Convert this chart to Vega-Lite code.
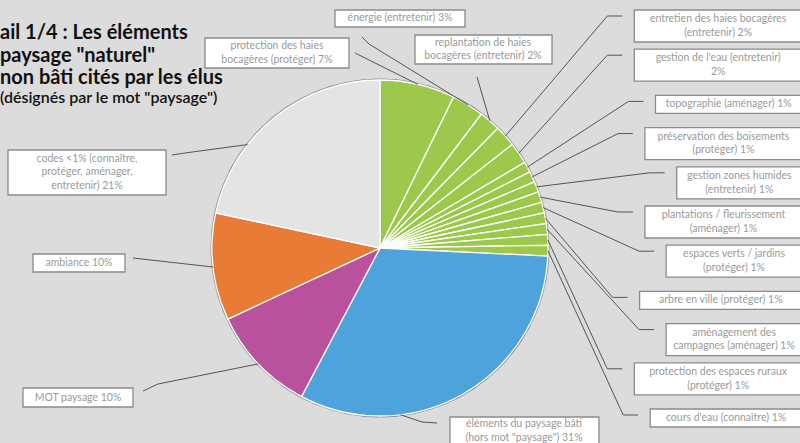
{
  "$schema": "https://vega.github.io/schema/vega-lite/v6.json",
  "width": 760,
  "height": 390,
  "autosize": {"type": "none"},
  "padding": {"left": 0, "top": 53, "right": 40, "bottom": 0},
  "background": "#dcdcdc",
  "config": {"view": {"stroke": null}, "font": "Lato"},
  "title": {
    "text": ["ail 1/4 : Les éléments", "paysage \"naturel\"", "non bâti cités par les élus"],
    "subtitle": "(désignés par le mot \"paysage\")",
    "anchor": "start",
    "frame": "group",
    "orient": "top",
    "offset": -97,
    "font": "Lato",
    "fontSize": 20,
    "fontWeight": "bold",
    "color": "#111111",
    "lineHeight": 22.5,
    "subtitleFont": "Lato",
    "subtitleFontSize": 16,
    "subtitleFontWeight": 600,
    "subtitleColor": "#111111",
    "subtitlePadding": 2
  },
  "data": {
    "values": [
      {"rank": 1, "label": ["protection des haies", "bocagères (protéger) 7%"], "pct": 7, "fam": "naturel"},
      {"rank": 2, "label": ["énergie (entretenir) 3%"], "pct": 3, "fam": "naturel"},
      {"rank": 3, "label": ["replantation de haies", "bocagères (entretenir) 2%"], "pct": 2, "fam": "naturel"},
      {"rank": 4, "label": ["entretien des haies bocagères", "(entretenir) 2%"], "pct": 2, "fam": "naturel"},
      {"rank": 5, "label": ["gestion de l'eau (entretenir)", "2%"], "pct": 2, "fam": "naturel"},
      {"rank": 6, "label": ["topographie (aménager) 1%"], "pct": 1, "fam": "naturel"},
      {"rank": 7, "label": ["préservation des boisements", "(protéger) 1%"], "pct": 1, "fam": "naturel"},
      {"rank": 8, "label": ["gestion zones humides", "(entretenir) 1%"], "pct": 1, "fam": "naturel"},
      {"rank": 9, "label": ["plantations / fleurissement", "(aménager) 1%"], "pct": 1, "fam": "naturel"},
      {"rank": 10, "label": ["espaces verts / jardins", "(protéger) 1%"], "pct": 1, "fam": "naturel"},
      {"rank": 11, "label": ["arbre en ville (protéger) 1%"], "pct": 1, "fam": "naturel"},
      {"rank": 12, "label": ["aménagement des", "campagnes (aménager) 1%"], "pct": 1, "fam": "naturel"},
      {"rank": 13, "label": ["protection des espaces ruraux", "(protéger) 1%"], "pct": 1, "fam": "naturel"},
      {"rank": 14, "label": ["cours d'eau (connaître) 1%"], "pct": 1, "fam": "naturel"},
      {"rank": 15, "label": ["éléments du paysage bâti", "(hors mot \"paysage\") 31%"], "pct": 31, "fam": "bâti"},
      {"rank": 16, "label": ["MOT paysage  10%"], "pct": 10, "fam": "mot"},
      {"rank": 17, "label": ["ambiance  10%"], "pct": 10, "fam": "ambiance"},
      {"rank": 18, "label": ["codes <1% (connaître,", "protéger, aménager,", "entretenir) 21%"], "pct": 21, "fam": "codes"}
    ]
  },
  "transform": [
    {"joinaggregate": [{"op": "sum", "field": "pct", "as": "total"}]},
    {"window": [{"op": "sum", "field": "pct", "as": "cum"}], "sort": [{"field": "rank"}], "frame": [null, 0]},
    {"calculate": "length(datum.label)", "as": "n"},
    {"calculate": "max(length(datum.label[0]), datum.n > 1 ? length(datum.label[1]) : 0, datum.n > 2 ? length(datum.label[2]) : 0)", "as": "len"},
    {"calculate": "5.3 * datum.len + 14", "as": "bw"},
    {"calculate": "4 + 14 * datum.n", "as": "bh"},
    {"calculate": "26 + (datum.rank - 4) * 39.2", "as": "ycp"},
    {"calculate": "datum.rank == 15 ? PI * 173 / 180 : datum.rank == 18 ? PI * 308 / 180 : 2 * PI * (datum.cum - datum.pct / 2) / datum.total", "as": "ang"},
    {"calculate": "datum.rank == 1 ? [205, 38, 349, 68, 277, 53, 355, 53, 355, 53] : datum.rank == 2 ? [335, 10, 465, 27, 400, 18.5, 362, 37, 369, 44] : datum.rank == 3 ? [415, 35, 552, 64, 483, 49.5, 477, 77, 477, 77] : datum.rank == 15 ? [450, 417, 599, 455, 524, 431, 437, 423, 422, 422] : datum.rank == 16 ? [23, 388, 133, 407, 78, 397.5, 143, 391, 158, 384] : datum.rank == 17 ? [33, 254, 125, 272, 79, 263, 133, 258, 133, 258] : datum.rank == 18 ? [8, 150, 166, 195, 87, 172.5, 172, 155, 185, 153] : [802 - datum.bw, datum.ycp - datum.bh / 2, 802, datum.ycp + datum.bh / 2, 802 - datum.bw / 2, datum.ycp, 790 - datum.bw, datum.ycp - datum.bh / 2 + 6, 775 - datum.bw, datum.ycp - datum.bh / 2 + 6]", "as": "lay"},
    {"calculate": "(datum.lay[0] - 380) / 168", "as": "bx1"},
    {"calculate": "(248 - datum.lay[1]) / 168", "as": "by1"},
    {"calculate": "(datum.lay[2] - 380) / 168", "as": "bx2"},
    {"calculate": "(248 - datum.lay[3]) / 168", "as": "by2"},
    {"calculate": "(datum.lay[4] - 380) / 168", "as": "tx"},
    {"calculate": "(248 - (datum.lay[5] - (datum.n - 1) * 13.5 / 2)) / 168", "as": "ty"},
    {"calculate": "(datum.lay[6] - 380) / 168", "as": "p0x"},
    {"calculate": "(248 - datum.lay[7]) / 168", "as": "p0y"},
    {"calculate": "(datum.lay[8] - 380) / 168", "as": "p1x"},
    {"calculate": "(248 - datum.lay[9]) / 168", "as": "p1y"},
    {"calculate": "sin(datum.ang)", "as": "ex"},
    {"calculate": "cos(datum.ang)", "as": "ey"}
  ],
  "layer": [
    {
      "transform": [{"aggregate": [{"op": "sum", "field": "pct", "as": "s"}]}],
      "mark": {"type": "arc", "outerRadius": 169.5, "fill": "#8e8e8e"},
      "encoding": {"theta": {"field": "s", "type": "quantitative"}}
    },
    {
      "mark": {"type": "arc", "outerRadius": 168, "stroke": "#ffffff", "strokeWidth": 1.3},
      "encoding": {
        "theta": {"field": "pct", "type": "quantitative", "stack": true},
        "order": {"field": "rank", "type": "quantitative"},
        "color": {
          "field": "fam",
          "type": "nominal",
          "scale": {"domain": ["naturel", "bâti", "mot", "ambiance", "codes"], "range": ["#9cc84b", "#4fa3dc", "#b9519f", "#e87c37", "#e4e4e4"]},
          "legend": null
        }
      }
    },
    {
      "mark": {"type": "rule", "stroke": "#555555", "strokeWidth": 1},
      "encoding": {
        "x": {"field": "p0x", "type": "quantitative", "scale": {"domain": [-2.2619, 2.2619], "nice": false, "zero": false}, "axis": null},
        "y": {"field": "p0y", "type": "quantitative", "scale": {"domain": [-1.1607, 1.1607], "nice": false, "zero": false}, "axis": null},
        "x2": {"field": "p1x"},
        "y2": {"field": "p1y"}
      }
    },
    {
      "mark": {"type": "rule", "stroke": "#555555", "strokeWidth": 1},
      "encoding": {
        "x": {"field": "p1x", "type": "quantitative", "scale": {"domain": [-2.2619, 2.2619], "nice": false, "zero": false}, "axis": null},
        "y": {"field": "p1y", "type": "quantitative", "scale": {"domain": [-1.1607, 1.1607], "nice": false, "zero": false}, "axis": null},
        "x2": {"field": "ex"},
        "y2": {"field": "ey"}
      }
    },
    {
      "mark": {"type": "rect", "fill": "#ffffff", "stroke": "#8a8a8a", "strokeWidth": 1.3},
      "encoding": {
        "x": {"field": "bx1", "type": "quantitative", "scale": {"domain": [-2.2619, 2.2619], "nice": false, "zero": false}, "axis": null},
        "y": {"field": "by1", "type": "quantitative", "scale": {"domain": [-1.1607, 1.1607], "nice": false, "zero": false}, "axis": null},
        "x2": {"field": "bx2"},
        "y2": {"field": "by2"}
      }
    },
    {
      "mark": {"type": "text", "align": "center", "baseline": "middle", "font": "Lato", "fontSize": 10.5, "lineHeight": 13.5, "fill": "#9a9a9a"},
      "encoding": {
        "x": {"field": "tx", "type": "quantitative", "scale": {"domain": [-2.2619, 2.2619], "nice": false, "zero": false}, "axis": null},
        "y": {"field": "ty", "type": "quantitative", "scale": {"domain": [-1.1607, 1.1607], "nice": false, "zero": false}, "axis": null},
        "text": {"field": "label", "type": "nominal"}
      }
    }
  ]
}
